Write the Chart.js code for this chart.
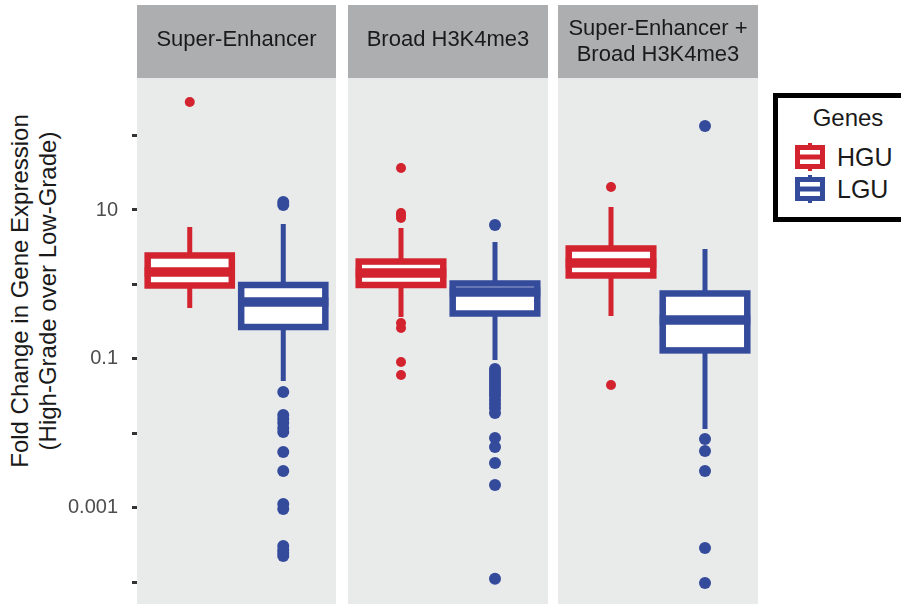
<!DOCTYPE html>
<html>
<head>
<meta charset="utf-8">
<script src="https://cdn.jsdelivr.net/npm/chart.js@4"></script>
<style>
  html, body { margin: 0; padding: 0; background: #fff; }
  body { position: relative; width: 901px; height: 605px; overflow: hidden;
         font-family: "Liberation Sans", Arial, sans-serif; }
  .facet { position: absolute; top: 0; height: 605px; }
  #ytitle { position: absolute; left: -166px; top: 263px; width: 400px; height: 56px;
            transform: rotate(-90deg); text-align: center; font-size: 24px; line-height: 28px;
            color: #1a1a1a; white-space: nowrap; }
  #legend { position: absolute; left: 773px; top: 93px; width: 133px; height: 129px;
            box-sizing: border-box; border: 5px solid #000; background: #fff; }
  .lg-title { position: absolute; left: 788px; top: 106px; width: 120px; text-align: center;
              font-size: 24px; line-height: 24px; color: #1a1a1a; }
  .lg-text { position: absolute; left: 837px; font-size: 25px; line-height: 25px; color: #1a1a1a; }
  .lg-key { position: absolute; left: 795px; }
</style>
</head>
<body>
<div id="ytitle">Fold Change in Gene Expression<br>(High-Grade over Low-Grade)</div>

<div class="facet" style="left:0;width:336px"><canvas id="f0"></canvas></div>
<div class="facet" style="left:348px;width:200px"><canvas id="f1"></canvas></div>
<div class="facet" style="left:558px;width:200px"><canvas id="f2"></canvas></div>

<div id="legend"></div>
<div class="lg-title">Genes</div>
<svg class="lg-key" style="top:143px" width="30" height="28" viewBox="0 0 30 28">
  <line x1="15" y1="0" x2="15" y2="28" stroke="#d2232f" stroke-width="4"/>
  <rect x="2.5" y="4.5" width="25" height="19" fill="#fff" stroke="#d2232f" stroke-width="5"/>
  <line x1="0" y1="14" x2="30" y2="14" stroke="#d2232f" stroke-width="5"/>
</svg>
<div class="lg-text" style="top:145px">HGU</div>
<svg class="lg-key" style="top:175px" width="30" height="28" viewBox="0 0 30 28">
  <line x1="15" y1="0" x2="15" y2="28" stroke="#344b9c" stroke-width="4"/>
  <rect x="2.5" y="4.5" width="25" height="19" fill="#fff" stroke="#344b9c" stroke-width="5"/>
  <line x1="0" y1="14" x2="30" y2="14" stroke="#344b9c" stroke-width="5"/>
</svg>
<div class="lg-text" style="top:177px">LGU</div>

<script>
// Facet strips and gene groups
const facetLabels = [['Super-Enhancer'], ['Broad H3K4me3'], ['Super-Enhancer +', 'Broad H3K4me3']];
const geneGroups = ['HGU', 'LGU'];

// Box-plot summaries, one entry per facet
const hguLow    = [0.483, 0.365, 0.377];
const hguQ1     = [0.968, 0.983, 1.32];
const hguMedian = [1.47, 1.425, 1.94];
const hguQ3     = [2.45, 2.03, 3.04];
const hguHigh   = [5.91, 5.73, 10.97];

const lguLow    = [0.0505, 0.0967, 0.01143];
const lguQ1     = [0.268, 0.407, 0.130];
const lguMedian = [0.581, 0.792, 0.333];
const lguQ3     = [0.983, 1.03, 0.756];
const lguHigh   = [6.49, 3.72, 2.99];

// Outlying genes per facet
const hguOutliers = [
  [282],
  [36.7, 9.11, 8.44, 7.81, 0.303, 0.260, 0.0908, 0.0608],
  [20.4, 0.0446]
];
const lguOutliers = [
  [12.8, 11.7, 0.0359, 0.01764, 0.01559, 0.01378, 0.0118, 0.01043, 0.00562, 0.00312,
   0.001125, 0.000964, 0.000307, 0.000271, 0.000247, 0.000225],
  [6.29, 0.0731, 0.0667, 0.0608, 0.0554, 0.0505, 0.0460, 0.0419, 0.0382, 0.0348, 0.0318,
   0.0281, 0.0248, 0.0219, 0.01877, 0.00866, 0.00656, 0.0040, 0.00202, 0.000111],
  [134, 0.00839, 0.00579, 0.00312, 0.000288, 0.0000977]
];

// Log axis: a tick at every decade, labels on alternate ones
const yTickValues = [1e-4, 1e-3, 1e-2, 1e-1, 1, 10, 100];
const yTickLabels = {'0.001': '0.001', '0.1': '0.1', '10': '10'};
const yMin = 5.1e-5, yMax = 593;

const RED = '#d2232f', BLUE = '#344b9c';
const PANEL_BG = '#e9eaea', STRIP_BG = '#adaeb0';
const BOX_WIDTH = 0.9;   // in category units

const facetPlugin = {
  id: 'facetPlugin',
  beforeDraw(chart, args, opts) {
    const {ctx, chartArea: a} = chart;
    ctx.save();
    ctx.fillStyle = PANEL_BG;
    ctx.fillRect(a.left, a.top, a.right - a.left, a.bottom - a.top);
    ctx.fillStyle = STRIP_BG;
    ctx.fillRect(a.left, 5, a.right - a.left, a.top - 5);
    ctx.fillStyle = '#1a1a1a';
    ctx.font = '22px "Liberation Sans", Arial, sans-serif';
    ctx.textAlign = 'center';
    ctx.textBaseline = 'middle';
    const lines = opts.strip;
    const cx = (a.left + a.right) / 2;
    if (lines.length === 1) {
      ctx.fillText(lines[0], cx, 40);
    } else {
      ctx.fillText(lines[0], cx, 29);
      ctx.fillText(lines[1], cx, 55);
    }
    ctx.restore();
  },
  beforeDatasetsDraw(chart, args, opts) {
    const {ctx, chartArea: a} = chart;
    const xs = chart.scales.x, ys = chart.scales.y;
    ctx.save();
    ctx.beginPath();
    ctx.rect(a.left, a.top, a.right - a.left, a.bottom - a.top);
    ctx.clip();
    opts.boxes.forEach((b, g) => {
      const cx = xs.getPixelForValue(g);
      const half = (xs.getPixelForValue(g + BOX_WIDTH / 2) - xs.getPixelForValue(g - BOX_WIDTH / 2)) / 2;
      const yLo = ys.getPixelForValue(b.low), yQ1 = ys.getPixelForValue(b.q1);
      const yMed = ys.getPixelForValue(b.median), yQ3 = ys.getPixelForValue(b.q3);
      const yHi = ys.getPixelForValue(b.high);
      ctx.strokeStyle = b.color;
      ctx.lineCap = 'butt';
      ctx.lineJoin = 'miter';
      // whiskers
      ctx.lineWidth = 5;
      ctx.beginPath();
      ctx.moveTo(cx, yHi); ctx.lineTo(cx, yQ3);
      ctx.moveTo(cx, yQ1); ctx.lineTo(cx, yLo);
      ctx.stroke();
      // box
      ctx.fillStyle = '#fff';
      ctx.fillRect(cx - half, yQ3, 2 * half, yQ1 - yQ3);
      ctx.lineWidth = 6.5;
      ctx.strokeRect(cx - half, yQ3, 2 * half, yQ1 - yQ3);
      // median
      ctx.lineWidth = 9.5;
      ctx.beginPath();
      ctx.moveTo(cx - half - 3, yMed); ctx.lineTo(cx + half + 3, yMed);
      ctx.stroke();
    });
    ctx.restore();
  }
};

function makeFacet(i) {
  const first = i === 0;
  const boxes = [
    {low: hguLow[i], q1: hguQ1[i], median: hguMedian[i], q3: hguQ3[i], high: hguHigh[i], color: RED},
    {low: lguLow[i], q1: lguQ1[i], median: lguMedian[i], q3: lguQ3[i], high: lguHigh[i], color: BLUE}
  ];
  new Chart(document.getElementById('f' + i), {
    type: 'scatter',
    data: {
      datasets: [
        {label: geneGroups[0], data: hguOutliers[i].map(v => ({x: 0, y: v})),
         backgroundColor: RED, borderWidth: 0, pointRadius: 5, pointHoverRadius: 5},
        {label: geneGroups[1], data: lguOutliers[i].map(v => ({x: 1, y: v})),
         backgroundColor: BLUE, borderWidth: 0, pointRadius: 6, pointHoverRadius: 6}
      ]
    },
    options: {
      responsive: true,
      maintainAspectRatio: false,
      animation: false,
      devicePixelRatio: 1,
      layout: {autoPadding: false, padding: {top: 78, bottom: 1, left: 0, right: 0}},
      plugins: {
        legend: {display: false},
        tooltip: {enabled: false},
        facetPlugin: {strip: facetLabels[i], boxes}
      },
      scales: {
        x: {type: 'linear', min: -0.564, max: 1.564, display: false},
        y: {
          type: 'logarithmic',
          min: yMin, max: yMax,
          display: first,
          afterBuildTicks(scale) { scale.ticks = yTickValues.map(v => ({value: v})); },
          afterFit(scale) {
            if (first) scale.width = 137;
            scale.paddingTop = 0;
            scale.paddingBottom = 0;
          },
          border: {display: false},
          grid: {drawOnChartArea: false, drawTicks: true, tickLength: 5, tickWidth: 3, tickColor: '#333'},
          ticks: {
            autoSkip: false,
            padding: 14,
            color: '#4d4d4d',
            font: {size: 20, family: '"Liberation Sans", Arial, sans-serif'},
            callback(value) {
              const key = String(Number(value.toPrecision(3)));
              return yTickLabels[key] || '';
            }
          }
        }
      }
    },
    plugins: [facetPlugin]
  });
}
[0, 1, 2].forEach(makeFacet);
</script>
</body>
</html>
